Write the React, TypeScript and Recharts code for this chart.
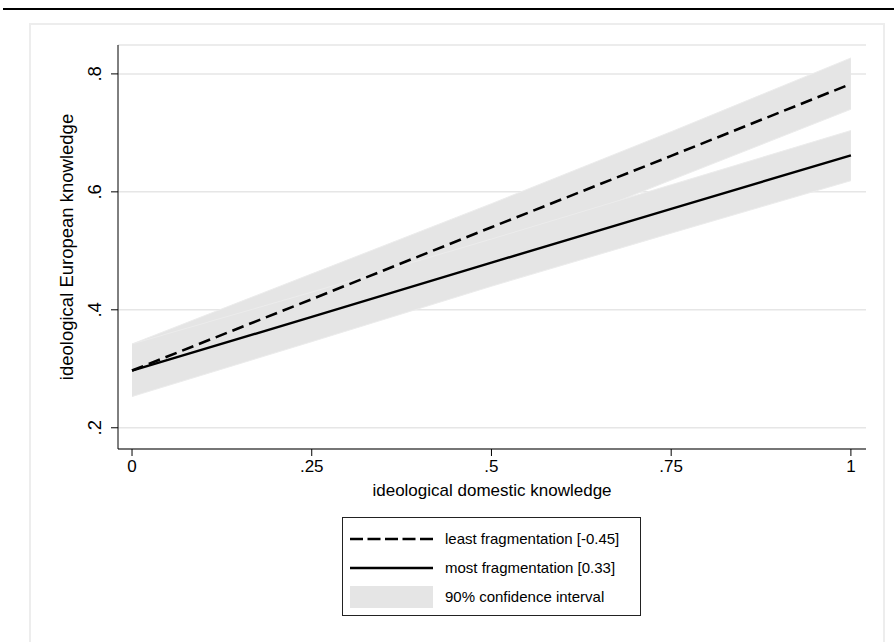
import { ComposedChart, Line, Area, XAxis, YAxis, CartesianGrid } from "recharts";

const X_VALUES = [0, 0.25, 0.5, 0.75, 1];
const LEAST_FRAG = [0.297, 0.418, 0.54, 0.661, 0.783];
const LEAST_LOW = [0.253, 0.376, 0.499, 0.62, 0.74];
const LEAST_HIGH = [0.342, 0.461, 0.58, 0.702, 0.827];
const MOST_FRAG = [0.297, 0.388, 0.48, 0.571, 0.662];
const MOST_LOW = [0.253, 0.346, 0.44, 0.53, 0.619];
const MOST_HIGH = [0.342, 0.43, 0.52, 0.612, 0.704];

const X_TICKS = [0, 0.25, 0.5, 0.75, 1];
const X_TICK_LABELS = ["0", ".25", ".5", ".75", "1"];
const Y_TICKS = [0.2, 0.4, 0.6, 0.8];
const Y_TICK_LABELS = [".2", ".4", ".6", ".8"];

const LEGEND_LABELS = [
  "least fragmentation [-0.45]",
  "most fragmentation [0.33]",
  "90% confidence interval",
];

const FONT = '"Liberation Sans", Arial, Helvetica, sans-serif';
const BAND = "#e5e5e5";

const data = X_VALUES.map((x, i) => ({
  x,
  least: LEAST_FRAG[i],
  leastBand: [LEAST_LOW[i], LEAST_HIGH[i]],
  most: MOST_FRAG[i],
  mostBand: [MOST_LOW[i], MOST_HIGH[i]],
}));

function fmtX(v: number) {
  const i = X_TICKS.indexOf(v);
  return i >= 0 ? X_TICK_LABELS[i] : String(v);
}

// stata-style vertical y tick labels
function YTick({ x, y, payload }: any) {
  const i = Y_TICKS.indexOf(payload.value);
  const label = i >= 0 ? Y_TICK_LABELS[i] : String(payload.value);
  const tx = x - 8;
  return (
    <text
      x={tx}
      y={y}
      transform={`rotate(-90 ${tx} ${y})`}
      textAnchor="middle"
      fill="#000"
      fontSize={18.5}
      fontFamily={FONT}
    >
      {label}
    </text>
  );
}

function LegendBox() {
  const row = (i: number, sym: JSX.Element) => (
    <div style={{ display: "flex", alignItems: "center", height: 29 }}>
      <svg width={90} height={24} style={{ flex: "none" }}>
        {sym}
      </svg>
      <span style={{ marginLeft: 6, fontSize: 15, fontFamily: FONT, color: "#000" }}>
        {LEGEND_LABELS[i]}
      </span>
    </div>
  );
  return (
    <div
      style={{
        position: "absolute",
        left: 342,
        top: 517,
        width: 299,
        height: 99,
        border: "1px solid #222",
        boxSizing: "border-box",
        background: "#fff",
        padding: "6px 0 0 6px",
      }}
    >
      {row(0, <line x1={1} x2={84} y1={12} y2={12} stroke="#000" strokeWidth={2.5} strokeDasharray="13 4.5" />)}
      {row(1, <line x1={1} x2={84} y1={12} y2={12} stroke="#000" strokeWidth={2.5} />)}
      {row(2, <rect x={1} y={1} width={83} height={22} fill={BAND} />)}
    </div>
  );
}

export default function App() {
  return (
    <div style={{ position: "absolute", left: 0, top: 0, width: 894, height: 642, background: "#fff" }}>
      <div style={{ position: "absolute", left: 3, top: 8, width: 891, height: 2, background: "#000" }} />
      <div
        style={{
          position: "absolute",
          left: 29,
          top: 23,
          width: 856,
          height: 640,
          border: "2px solid #ededed",
          boxSizing: "border-box",
        }}
      />
      <div style={{ position: "absolute", left: 0, top: 0 }}>
        <ComposedChart
          width={894}
          height={642}
          data={data}
          margin={{ top: 45, right: 28, bottom: 163, left: 58 }}
        >
          <CartesianGrid vertical={false} stroke="#e6e6e6" strokeWidth={1.5} />
          <XAxis
            dataKey="x"
            type="number"
            domain={[-0.0195, 1.021]}
            ticks={X_TICKS}
            tickFormatter={fmtX}
            height={30}
            tickSize={7}
            tickMargin={4}
            axisLine={{ stroke: "#000", strokeWidth: 1 }}
            tickLine={{ stroke: "#000", strokeWidth: 1 }}
            tick={{ fill: "#000", fontSize: 17, fontFamily: FONT }}
            allowDataOverflow
            label={{
              value: "ideological domestic knowledge",
              position: "bottom",
              offset: 5,
              fill: "#000",
              fontSize: 17,
              fontFamily: FONT,
            }}
          />
          <YAxis
            type="number"
            domain={[0.164, 0.849]}
            ticks={Y_TICKS}
            width={60}
            tickSize={7}
            tickMargin={2}
            axisLine={{ stroke: "#000", strokeWidth: 1 }}
            tickLine={{ stroke: "#000", strokeWidth: 1 }}
            tick={<YTick />}
            allowDataOverflow
            label={{
              value: "ideological European knowledge",
              angle: -90,
              position: "insideLeft",
              offset: 8,
              fill: "#000",
              fontSize: 18.5,
              fontFamily: FONT,
              style: { textAnchor: "middle" },
            }}
          />
          {/* confidence bands */}
          <Area
            type="linear"
            dataKey="leastBand"
            fill={BAND}
            fillOpacity={1}
            stroke="#ececec"
            strokeWidth={1}
            isAnimationActive={false}
          />
          <Area
            type="linear"
            dataKey="mostBand"
            fill={BAND}
            fillOpacity={1}
            stroke="#ececec"
            strokeWidth={1}
            isAnimationActive={false}
          />
          <Line
            type="linear"
            dataKey="least"
            stroke="#000"
            strokeWidth={2.6}
            strokeDasharray="12 6"
            dot={false}
            isAnimationActive={false}
          />
          <Line
            type="linear"
            dataKey="most"
            stroke="#000"
            strokeWidth={2.4}
            dot={false}
            isAnimationActive={false}
          />
        </ComposedChart>
      </div>
      <LegendBox />
    </div>
  );
}
